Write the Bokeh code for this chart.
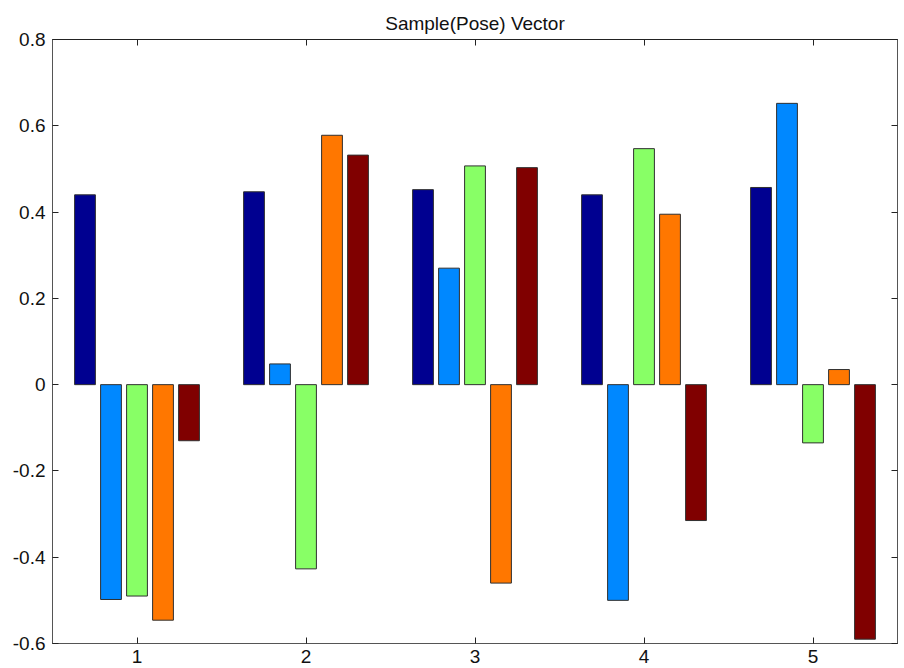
import numpy as np
from bokeh.plotting import figure
from bokeh.models import LinearAxis, FixedTicker, Range1d, ColumnDataSource, CustomJSTickFormatter
from bokeh.embed import file_html
from bokeh.resources import INLINE

groups = [1, 2, 3, 4, 5]
series1 = [0.440, 0.447, 0.452, 0.440, 0.457]
series2 = [-0.498, 0.048, 0.270, -0.500, 0.652]
series3 = [-0.490, -0.427, 0.507, 0.547, -0.135]
series4 = [-0.546, 0.578, -0.460, 0.395, 0.035]
series5 = [-0.130, 0.532, 0.503, -0.315, -0.590]
colors = ["#000090", "#0088FF", "#88FF66", "#FF7700", "#800000"]
y_ticks = [-0.6, -0.4, -0.2, 0, 0.2, 0.4, 0.6, 0.8]
y_labels = ["-0.6", "-0.4", "-0.2", "0", "0.2", "0.4", "0.6", "0.8"]
title = "Sample(Pose) Vector"

all_series = [series1, series2, series3, series4, series5]
n = len(all_series)
group_w = min(0.8, n / (n + 1.5))
step = group_w / n
bar_w = step * 0.8

p = figure(width=904, height=668, output_backend="svg", toolbar_location=None,
           x_range=Range1d(0.5, 5.5), y_range=Range1d(-0.6, 0.8),
           min_border_left=52, min_border_right=7, min_border_top=39, min_border_bottom=25)
p.title.text = title
p.title.align = "center"
p.title.text_font = "Liberation Sans"
p.title.text_font_size = "19px"
p.title.text_font_style = "normal"
p.title.text_color = "#111111"
p.title.offset = 0
p.title.standoff = 12

for i, (vals, c) in enumerate(zip(all_series, colors)):
    xs = np.array(groups, dtype=float) + (i - (n - 1) / 2) * step
    src = ColumnDataSource(dict(x=xs, top=vals))
    p.vbar(x="x", top="top", bottom=0, width=bar_w, source=src,
           fill_color=c, line_color="#303030", line_width=1)

p.xgrid.visible = False
p.ygrid.visible = False
p.outline_line_color = "#222222"
p.outline_line_width = 1

xt = FixedTicker(ticks=groups)
yt = FixedTicker(ticks=y_ticks)
p.xaxis.ticker = xt
p.yaxis.ticker = yt
p.yaxis.major_label_overrides = {v: l for v, l in zip(y_ticks, y_labels)}
p.xaxis.major_label_overrides = {g: str(g) for g in groups}

for ax in [p.xaxis[0], p.yaxis[0]]:
    ax.major_tick_in = 6
    ax.major_tick_out = 0
    ax.minor_tick_line_color = None
    ax.axis_line_color = "#555555"
    ax.major_tick_line_color = "#222222"
    ax.major_label_text_font = "Liberation Sans"
    ax.major_label_text_font_size = "19px"
    ax.major_label_text_color = "#111111"
p.xaxis.major_label_standoff = 6
p.yaxis.major_label_standoff = 7

blank = CustomJSTickFormatter(code="return '';")
ra = LinearAxis(ticker=yt, formatter=blank, major_tick_in=6, major_tick_out=0,
                minor_tick_line_color=None, axis_line_color="#555555", major_tick_line_color="#222222",
                major_label_standoff=0)
ta = LinearAxis(ticker=xt, formatter=blank, major_tick_in=6, major_tick_out=0,
                minor_tick_line_color=None, axis_line_color="#222222", major_tick_line_color="#222222",
                major_label_standoff=0)
p.add_layout(ra, "right")
p.add_layout(ta, "above")

open("out.html", "w").write(file_html(p, INLINE))
